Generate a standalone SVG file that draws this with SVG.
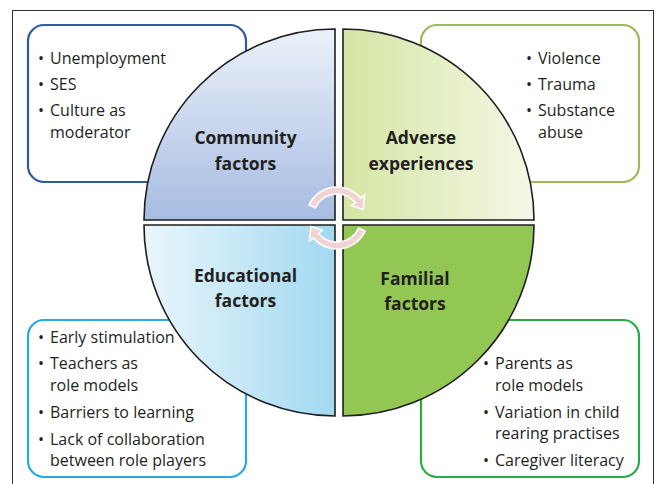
<svg xmlns="http://www.w3.org/2000/svg" width="657" height="484" viewBox="0 0 657 484">
<defs>
<linearGradient id="gTL" x1="0" y1="0" x2="0" y2="1"><stop offset="0" stop-color="#ebf1f9"/><stop offset="1" stop-color="#a7bce2"/></linearGradient>
<linearGradient id="gTR" x1="0" y1="0" x2="1" y2="0"><stop offset="0" stop-color="#d5e5a4"/><stop offset="1" stop-color="#f4f8e7"/></linearGradient>
<linearGradient id="gBL" x1="0" y1="0" x2="1" y2="0"><stop offset="0" stop-color="#e9f6fc"/><stop offset="1" stop-color="#a2d9f0"/></linearGradient>
</defs>
<style>
.box{fill:#fff;stroke-width:2.2}
.q{stroke:#1e1e1e;stroke-width:1.6}
.t{font-family:"Open Sans","Liberation Sans",sans-serif;font-size:16px;fill:#231f20}
.h{font-family:"Open Sans","Liberation Sans",sans-serif;font-size:17.5px;font-weight:bold;fill:#231f20;text-anchor:middle}
.arr{fill:#f1d3d3;stroke:#fff;stroke-width:1.5}
</style>
<rect x="0" y="0" width="657" height="484" fill="#fff"/>
<rect x="12.5" y="10.5" width="641" height="490" fill="none" stroke="#333" stroke-width="1"/>

<g id="box-community"><rect class="box" x="28" y="25" width="218" height="157" rx="16" stroke="#2e5c98"/></g>
<g id="box-adverse"><rect class="box" x="421" y="25" width="218" height="157" rx="16" stroke="#9bbb59"/></g>
<g id="box-educational"><rect class="box" x="28" y="320" width="218" height="157" rx="16" stroke="#29a9e0"/></g>
<g id="box-familial"><rect class="box" x="421" y="320" width="218" height="157" rx="16" stroke="#2aab4a"/></g>

<g id="community">
<path class="q" d="M335 220 L144 220 A191 191 0 0 1 335 29 Z" fill="url(#gTL)"/>
<text class="h" x="245.5" y="144">Community</text>
<text class="h" x="245.5" y="170">factors</text>
</g>
<g id="adverse">
<path class="q" d="M343 220 L343 29 A191 191 0 0 1 534 220 Z" fill="url(#gTR)"/>
<text class="h" x="421" y="144">Adverse</text>
<text class="h" x="421" y="170">experiences</text>
</g>
<g id="educational">
<path class="q" d="M335 225 L335 416 A191 191 0 0 1 144 225 Z" fill="url(#gBL)"/>
<text class="h" x="245.5" y="282">Educational</text>
<text class="h" x="245.5" y="307">factors</text>
</g>
<g id="familial">
<path class="q" d="M343 225 L534 225 A191 191 0 0 1 343 416 Z" fill="#92c754"/>
<text class="h" x="415" y="285">Familial</text>
<text class="h" x="415" y="310">factors</text>
</g>

<g id="connectors">
<path id="cycle-top" class="arr" d="M308.9 204.9 A31 31 0 0 1 360.7 198.1 L364.6 194.9 L363.2 209.5 L351.6 205.8 L355.4 202.6 A24 24 0 0 0 315.3 207.9 Z"/>
<path id="cycle-bottom" class="arr" transform="rotate(180 337 218)" d="M308.9 204.9 A31 31 0 0 1 360.7 198.1 L364.6 194.9 L363.2 209.5 L351.6 205.8 L355.4 202.6 A24 24 0 0 0 315.3 207.9 Z"/>
</g>

<g id="list-community" class="t">
<text x="38" y="64">•</text><text x="50" y="64">Unemployment</text>
<text x="38" y="90">•</text><text x="50" y="90">SES</text>
<text x="38" y="116">•</text><text x="50" y="116">Culture as</text>
<text x="50" y="138">moderator</text>
</g>
<g id="list-adverse" class="t">
<text x="526" y="64">•</text><text x="538" y="64">Violence</text>
<text x="526" y="90">•</text><text x="538" y="90">Trauma</text>
<text x="526" y="116">•</text><text x="538" y="116">Substance</text>
<text x="538" y="138">abuse</text>
</g>
<g id="list-educational" class="t">
<text x="38" y="343">•</text><text x="50" y="343">Early stimulation</text>
<text x="38" y="369">•</text><text x="50" y="369">Teachers as</text>
<text x="50" y="391">role models</text>
<text x="38" y="418">•</text><text x="50" y="418">Barriers to learning</text>
<text x="38" y="445">•</text><text x="50" y="445">Lack of collaboration</text>
<text x="50" y="466">between role players</text>
</g>
<g id="list-familial" class="t">
<text x="483" y="369">•</text><text x="495" y="369">Parents as</text>
<text x="495" y="391">role models</text>
<text x="483" y="418">•</text><text x="495" y="418">Variation in child</text>
<text x="495" y="439">rearing practises</text>
<text x="483" y="466">•</text><text x="495" y="466">Caregiver literacy</text>
</g>
</svg>
